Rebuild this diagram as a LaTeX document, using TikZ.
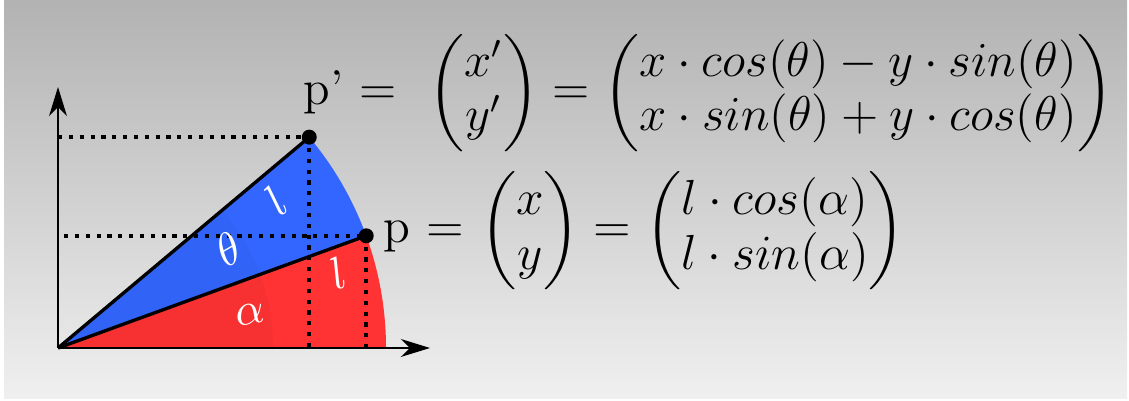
\documentclass[11pt,tikz,border=0pt]{standalone}
\usepackage{amsmath}
\usepackage{graphicx}
\usepackage{tikz}
\usetikzlibrary{arrows.meta,calc,positioning}
\definecolor{wedgeblue}{RGB}{51,102,255}
\definecolor{wedgered}{RGB}{255,51,51}
\tikzset{
    guide/.style={line width=1pt, dash pattern=on 1pt off 1.6pt},
    axis/.style={line width=0.5pt, -{Stealth[length=7pt,width=4.3pt,inset=2.2pt]}},
    ray/.style={line width=0.8pt},
    anglabel/.style={text=white, inner sep=0pt},
    eq/.style={anchor=base west, inner sep=0pt, font=\fontsize{12}{13.4}\selectfont}
}

\begin{document}
\begin{tikzpicture}[x=0.24pt, y=0.24pt]

% ---- frame and background ----
\useasboundingbox (0,0) rectangle (1129,401);
\shade[top color=black!30, bottom color=black!6] (4,2) rectangle (1127,400);

% ---- points ----
\coordinate (O) at (58,53);
\coordinate (P) at ($(O)+(20:328)$);
\coordinate (Pp) at ($(O)+(40:328)$);
\coordinate (Xend) at (430,53);
\coordinate (Yend) at (58,314);

% ---- sectors ----
\fill[wedgered] (O) -- (P) arc[start angle=20, end angle=0, radius=328] -- cycle;
\fill[wedgeblue] (O) -- (Pp) arc[start angle=40, end angle=20, radius=328] -- cycle;
\fill[wedgered!97!black] (O) -- ++(0:215) arc[start angle=0, end angle=20, radius=215] -- cycle;
\fill[wedgeblue!97!black] (O) -- ++(20:215) arc[start angle=20, end angle=40, radius=215] -- cycle;

% ---- projections ----
\draw[guide] (O |- Pp) -- (Pp);
\draw[guide] ($(O |- P)+(6,0)$) -- (P);
\draw[guide] (Pp) -- (Pp |- O);
\draw[guide] (P) -- (P |- O);

% ---- rays and axes ----
\draw[ray] (O) -- (Pp);
\draw[ray] (O) -- (P);
\draw[axis] (O) -- (Xend);
\draw[axis] (O) -- (Yend);
\fill (P) circle (1.8pt);
\fill (Pp) circle (1.8pt);

% ---- labels ----
\node[anglabel, rotate=30] (theta) at ($(O)+(30:197)$) {$\theta$};
\node[anglabel, rotate=10] (alpha) at ($(O)+(10:195)$) {$\alpha$};
\node[anglabel, rotate=40] (lp) at ($(O)+(34:263)$) {$l$};
\node[anglabel, rotate=20] (l) at ($(O)+(15:290)$) {$l$};

% ---- equations ----
\node[eq] (ppeq) at (303,296) {\scalebox{0.977}{p' = \ $\begin{pmatrix}x'\\ y'\end{pmatrix} = \begin{pmatrix}x\cdot cos(\theta) - y\cdot sin(\theta)\\ x\cdot sin(\theta) + y\cdot cos(\theta)\end{pmatrix}$}};
\node[eq] (peq) at (383,158) {\scalebox{0.985}{p = $\begin{pmatrix}x\\ y\end{pmatrix} = \begin{pmatrix}l\cdot cos(\alpha)\\ l\cdot sin(\alpha)\end{pmatrix}$}};

\end{tikzpicture}
\end{document}
